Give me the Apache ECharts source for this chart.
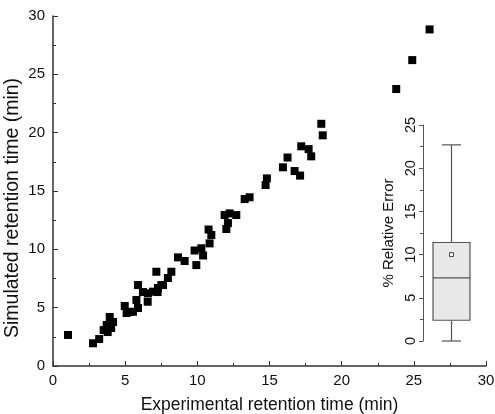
<!DOCTYPE html>
<html>
<head>
<meta charset="utf-8">
<script src="https://cdn.jsdelivr.net/npm/echarts@6/dist/echarts.min.js"></script>
<style>
  html, body { margin: 0; padding: 0; background: #fff; }
  #chart { width: 495px; height: 414px; }
</style>
</head>
<body>
<div id="chart"></div>
<script>
// experimental vs simulated retention time (min)
var expTime = [1.04, 2.77, 3.20, 3.51, 3.72, 3.93, 4.16, 3.79, 4.03, 4.97, 5.10, 5.31, 5.54, 5.78, 5.89,
	5.89, 6.23, 6.56, 6.58, 6.93, 7.27, 7.51, 7.16, 7.62, 7.96, 8.20, 7.25, 8.66, 9.12, 9.93,
	9.81, 10.28, 10.40, 10.85, 10.97, 10.78, 11.89, 12.24, 12.70, 12.01, 12.12, 13.28, 13.62,
	14.73, 14.82, 15.93, 16.25, 16.74, 17.12, 17.20, 17.71, 17.89, 18.59, 18.69, 23.78, 24.89, 26.09];
var simTime = [2.66, 1.95, 2.31, 3.08, 3.51, 4.20, 3.77, 2.91, 3.26, 5.14, 4.54, 4.63, 4.65, 5.66, 4.97,
	6.94, 6.34, 5.51, 6.23, 6.37, 6.68, 6.94, 8.08, 6.94, 7.54, 8.08, 6.34, 9.31, 9.00, 8.65,
	9.90, 10.09, 9.47, 10.51, 11.23, 11.70, 12.94, 13.08, 12.94, 11.74, 12.25, 14.31, 14.46,
	15.51, 16.08, 17.03, 17.87, 16.71, 16.32, 18.83, 18.59, 17.97, 20.76, 19.77, 23.74, 26.22, 28.85];
// % relative error box: min, Q1, median, Q3, max
var errBox = [0, 2.4, 7.3, 11.4, 22.7];
var errMean = 10.0;
var mainTicks = [0, 5, 10, 15, 20, 25, 30];

var points = [];
for (var i = 0; i < expTime.length; i++) {
	points.push([expTime[i], simTime[i]]);
}

var font = 'Liberation Sans, Arial, sans-serif';
var dom = document.getElementById('chart');
var myChart = echarts.init(dom);
var option = {
	animation: false,
	textStyle: { fontFamily: font },
	grid: [
		{ left: 53, right: 9, top: 16, bottom: 48, containLabel: false, outerBoundsMode: 'none' },
		{ left: 423, width: 57, top: 125, bottom: 73, containLabel: false, outerBoundsMode: 'none' }
	],
	xAxis: [{
		type: 'value', gridIndex: 0,
		min: mainTicks[0], max: mainTicks[mainTicks.length - 1], interval: 5,
		name: 'Experimental retention time (min)',
		nameLocation: 'middle', nameGap: 30,
		nameTextStyle: { fontSize: 17.5, color: '#111', fontFamily: font },
		axisLine: { lineStyle: { color: '#333', width: 1.5 } },
		axisTick: { inside: true, length: 5, lineStyle: { color: '#333' } },
		minorTick: { show: true, splitNumber: 2, length: 3, lineStyle: { color: '#333' } },
		axisLabel: { fontSize: 15, color: '#111', margin: 7 },
		splitLine: { show: false }
	}, {
		type: 'category', gridIndex: 1, data: ['err'],
		show: false
	}],
	yAxis: [{
		type: 'value', gridIndex: 0,
		min: mainTicks[0], max: mainTicks[mainTicks.length - 1], interval: 5,
		name: 'Simulated retention time (min)',
		nameLocation: 'middle', nameGap: 30, nameMoveOverlap: false,
		nameTextStyle: { fontSize: 19.5, color: '#111', fontFamily: font, padding: [0, 34, 0, 0] },
		axisLine: { show: true, lineStyle: { color: '#333', width: 1.5 } },
		axisTick: { show: true, inside: true, length: 5, lineStyle: { color: '#333' } },
		minorTick: { show: true, splitNumber: 2, length: 3, lineStyle: { color: '#333' } },
		axisLabel: { fontSize: 15, color: '#111', margin: 8 },
		splitLine: { show: false }
	}, {
		type: 'value', gridIndex: 1,
		min: 0, max: 25, interval: 5,
		name: '% Relative Error',
		nameLocation: 'middle', nameGap: 27,
		nameTextStyle: { fontSize: 15, color: '#111', fontFamily: font },
		axisLine: { show: true, lineStyle: { color: '#555', width: 1 } },
		axisTick: { show: true, length: 4, lineStyle: { color: '#555' } },
		minorTick: { show: true, splitNumber: 2, length: 3, lineStyle: { color: '#555' } },
		axisLabel: { fontSize: 14.5, color: '#111', rotate: 90, margin: 5 },
		splitLine: { show: false }
	}],
	series: [{
		name: 'retention',
		type: 'scatter',
		xAxisIndex: 0, yAxisIndex: 0,
		symbol: 'rect', symbolSize: 8,
		itemStyle: { color: '#000', opacity: 1 },
		data: points
	}, {
		name: 'box',
		type: 'custom',
		xAxisIndex: 1, yAxisIndex: 1,
		data: [[0].concat(errBox)],
		renderItem: function (params, api) {
			var x = api.coord([0, 0])[0];
			var half = 18.5, cap = 9.5;
			var yMin = api.coord([0, api.value(1)])[1];
			var yQ1 = api.coord([0, api.value(2)])[1];
			var yMed = api.coord([0, api.value(3)])[1];
			var yQ3 = api.coord([0, api.value(4)])[1];
			var yMax = api.coord([0, api.value(5)])[1];
			var line = { stroke: '#555', lineWidth: 1.2 };
			return {
				type: 'group',
				children: [
					{ type: 'line', shape: { x1: x, y1: yMax, x2: x, y2: yQ3 }, style: line },
					{ type: 'line', shape: { x1: x, y1: yQ1, x2: x, y2: yMin }, style: line },
					{ type: 'line', shape: { x1: x - cap, y1: yMax, x2: x + cap, y2: yMax }, style: line },
					{ type: 'line', shape: { x1: x - cap, y1: yMin, x2: x + cap, y2: yMin }, style: line },
					{ type: 'rect', shape: { x: x - half, y: yQ3, width: half * 2, height: yQ1 - yQ3 },
						style: { fill: '#e8e8e8', stroke: '#555', lineWidth: 1.2 } },
					{ type: 'line', shape: { x1: x - half, y1: yMed, x2: x + half, y2: yMed }, style: line }
				]
			};
		}
	}, {
		name: 'mean',
		type: 'scatter',
		xAxisIndex: 1, yAxisIndex: 1,
		symbol: 'rect', symbolSize: 4,
		itemStyle: { color: '#fff', borderColor: '#222', borderWidth: 1 },
		data: [['err', errMean]],
		z: 5
	}]
};
myChart.setOption(option, true);
</script>
</body>
</html>
